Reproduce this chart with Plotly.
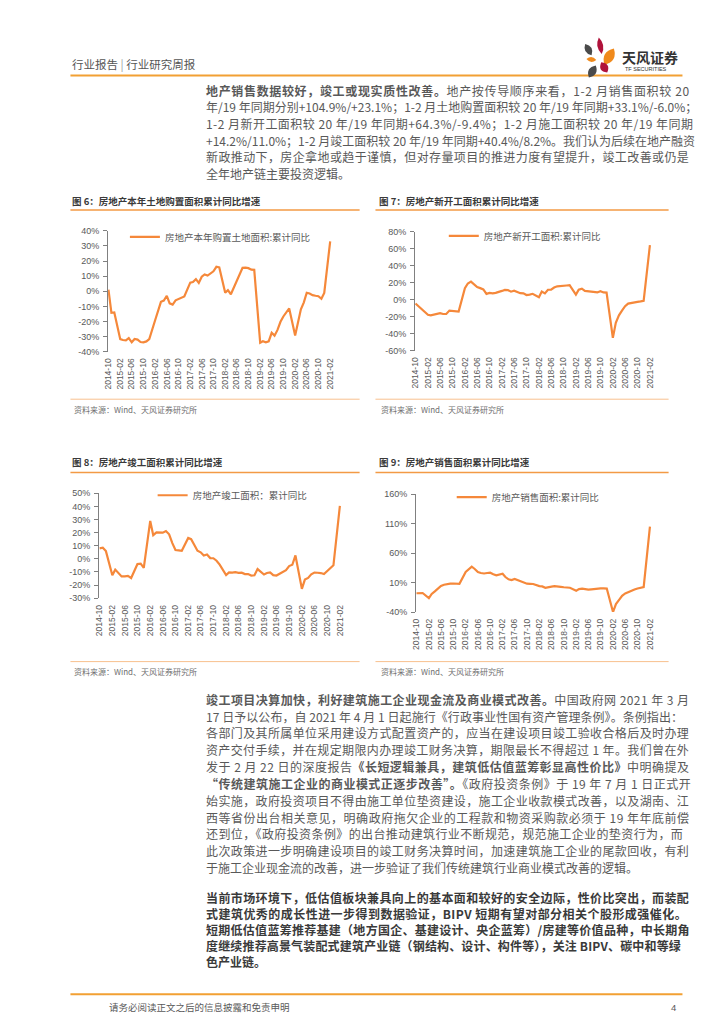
import re
import math
import plotly.graph_objects as go

W, H = 724, 1024
def X(px): return px / W
def Y(py): return 1 - py / H

ORANGE = "#F5883A"
GRAY = "#595959"
DARK = "#3a3a3a"
CJK = "Noto Sans CJK SC"

# ---------------- data ----------------
months = (["2014-10", "2014-11", "2014-12"]
          + [f"{y}-{m:02d}" for y in range(2015, 2021) for m in range(2, 13)]
          + ["2021-02"])

land_purchase = [1.0, -14.3, -14.0,
                 -31.7, -32.3, -32.5, -31.0, -33.8, -31.6, -32.0, -33.6, -33.8, -33.2, -31.7,
                 -19.0, -12.4, -7.0, -6.2, -3.0, -8.0, -8.8, -6.0, -5.3, -4.4, -3.4,
                 5.7, 6.1, 8.0, 5.5, 9.6, 11.1, 10.4, 12.0, 13.2, 16.2, 15.8,
                 -1.0, 0.7, -2.0, 2.6, 7.2, 11.1, 15.5, 15.7, 15.3, 14.3, 14.2,
                 -34.1, -33.1, -33.8, -33.2, -27.5, -29.4, -25.6, -20.2, -16.7, -14.2, -11.4,
                 -29.3, -20.0, -12.0, -7.5, -1.0, -1.5, -2.6, -3.0, -3.3, -5.0, -1.1,
                 33.1]

new_starts = [-4.5, -7.7, -10.7,
              -17.7, -18.4, -17.3, -16.1, -15.8, -16.8, -16.8, -12.8, -13.2, -14.3, -14.0,
              13.7, 19.2, 21.4, 18.3, 14.9, 13.7, 12.2, 6.9, 8.0, 7.6, 8.1,
              10.4, 11.6, 11.4, 9.5, 10.6, 8.9, 7.7, 7.6, 5.6, 6.1, 7.0,
              2.9, 9.7, 7.5, 11.8, 11.8, 14.4, 15.8, 16.4, 16.3, 16.8, 17.2,
              6.0, 11.9, 13.1, 10.5, 10.1, 9.5, 8.9, 8.6, 10.0, 8.6, 8.5,
              -44.9, -27.2, -18.4, -12.8, -7.6, -4.5, -3.6, -3.4, -2.6, -2.0, -1.2,
              64.3]

completions = [8.0, 8.5, 5.9,
               -12.5, -8.2, -10.9, -13.4, -13.3, -13.0, -14.6, -9.8, -4.0, -3.6, -6.9,
               28.9, 18.1, 20.2, 20.3, 20.0, 21.2, 18.7, 12.0, 6.7, 6.5, 6.1,
               15.9, 15.0, 10.5, 6.2, 5.0, 2.5, 3.3, 0.6, 0.5, -1.4, -4.4,
               -12.3, -10.3, -10.5, -10.1, -10.6, -10.5, -11.6, -11.6, -12.7, -12.5, -7.8,
               -11.9, -10.8, -10.3, -12.4, -12.7, -11.3, -10.0, -8.6, -5.5, -4.5, 2.6,
               -22.9, -15.8, -14.5, -11.8, -10.5, -10.6, -10.8, -11.6, -9.2, -7.3, -4.9,
               40.4]

sales = [-8.0, -8.2, -7.6,
         -16.3, -9.2, -4.8, -0.2, 4.5, 6.5, 7.8, 8.4, 8.5, 8.6, 8.0,
         28.2, 33.1, 37.1, 33.2, 27.9, 26.4, 25.5, 26.3, 26.8, 24.3, 22.5,
         25.1, 19.5, 15.7, 14.3, 16.1, 14.0, 12.7, 10.3, 8.2, 7.9, 7.7,
         4.1, 3.6, 1.3, 2.9, 3.3, 4.2, 4.0, 2.9, 2.2, 1.4, 1.3,
         -3.6, -0.9, -0.3, -1.6, -1.8, -1.3, -0.6, -0.1, 0.1, 0.2, -0.1,
         -39.9, -26.3, -19.3, -12.3, -8.4, -5.8, -3.3, -1.8, 0.0, 1.3, 2.6,
         104.9]

series_names = ["房地产本年购置土地面积:累计同比", "房地产新开工面积:累计同比",
                "房地产竣工面积：累计同比", "房地产销售面积:累计同比"]
chart_titles = ["图 6：房地产本年土地购置面积累计同比增速", "图 7：房地产新开工面积累计同比增速",
                "图 8：房地产竣工面积累计同比增速", "图 9：房地产销售面积累计同比增速"]
source_text = "资料来源：Wind、天风证券研究所"

para1 = [
    "<b>地产销售数据较好，竣工或现实质性改善。</b>地产按传导顺序来看，1-2 月销售面积较 20",
    "年/19 年同期分别+104.9%/+23.1%；1-2 月土地购置面积较 20 年/19 年同期+33.1%/-6.0%；",
    "1-2 月新开工面积较 20 年/19 年同期+64.3%/-9.4%；1-2 月施工面积较 20 年/19 年同期",
    "+14.2%/11.0%；1-2 月竣工面积较 20 年/19 年同期+40.4%/8.2%。我们认为后续在地产融资",
    "新政推动下，房企拿地或趋于谨慎，但对存量项目的推进力度有望提升，竣工改善或仍是",
    "全年地产链主要投资逻辑。",
]
para2 = [
    "<b>竣工项目决算加快，利好建筑施工企业现金流及商业模式改善。</b>中国政府网 2021 年 3 月",
    "17 日予以公布，自 2021 年 4 月 1 日起施行《行政事业性国有资产管理条例》。条例指出：",
    "各部门及其所属单位采用建设方式配置资产的，应当在建设项目竣工验收合格后及时办理",
    "资产交付手续，并在规定期限内办理竣工财务决算，期限最长不得超过 1 年。我们曾在外",
    "发于 2 月 22 日的深度报告<b>《长短逻辑兼具，建筑低估值蓝筹彰显高性价比》</b>中明确提及",
    "<b>“传统建筑施工企业的商业模式正逐步改善”。</b>《政府投资条例》于 19 年 7 月 1 日正式开",
    "始实施，政府投资项目不得由施工单位垫资建设，施工企业收款模式改善，以及湖南、江",
    "西等省份出台相关意见，明确政府拖欠企业的工程款和物资采购款必须于 19 年年底前偿",
    "还到位，《政府投资条例》的出台推动建筑行业不断规范，规范施工企业的垫资行为，而",
    "此次政策进一步明确建设项目的竣工财务决算时间，加速建筑施工企业的尾款回收，有利",
    "于施工企业现金流的改善，进一步验证了我们传统建筑行业商业模式改善的逻辑。",
]
para3 = [
    "当前市场环境下，低估值板块兼具向上的基本面和较好的安全边际，性价比突出，而装配",
    "式建筑优秀的成长性进一步得到数据验证，BIPV 短期有望对部分相关个股形成强催化。",
    "短期低估值蓝筹推荐基建（地方国企、基建设计、央企蓝筹）/房建等价值品种，中长期角",
    "度继续推荐高景气装配式建筑产业链（钢结构、设计、构件等），关注 BIPV、碳中和等绿",
    "色产业链。",
]

# ---------------- layout ----------------
charts = [
    dict(vals=land_purchase, dom=(96, 323, 220, 342), yr=(-40, 40), dt=10, zc="#000000",
         leg=(113, 226), title=(58, 190), rule=(58, 350, 199), bottom=(58, 350, 390), src=(60, 400)),
    dict(vals=new_starts, dom=(406, 646, 221, 341), yr=(-60, 80), dt=20, zc="#808080",
         leg=(435, 225), title=(368, 190), rule=(366, 662, 199), bottom=(366, 662, 390), src=(370, 400)),
    dict(vals=completions, dom=(87, 333, 485, 591), yr=(-30, 50), dt=10, zc="#000000",
         leg=(141, 487), title=(58, 453), rule=(58, 350, 464), bottom=(58, 350, 655), src=(60, 665)),
    dict(vals=sales, dom=(407, 646, 486, 605), yr=(-40, 160), dt=50, zc="#595959",
         leg=(443, 489), title=(368, 453), rule=(366, 662, 464), bottom=(366, 662, 655), src=(370, 665)),
]
xr = ["2014-09-27", "2021-03-01"]

fig = go.Figure()
layout = dict(width=W, height=H, margin=dict(l=0, r=0, t=0, b=0),
              paper_bgcolor="white", plot_bgcolor="white", showlegend=True)
annotations, shapes = [], []

def txt(x, y, s, size, color=GRAY, xanchor="left", family=CJK):
    annotations.append(dict(x=X(x), y=Y(y), xref="paper", yref="paper", text=s,
                            showarrow=False, xanchor=xanchor, yanchor="middle",
                            font=dict(family=family, size=size, color=color)))

def hline(x0, x1, y, color, width):
    shapes.append(dict(type="line", xref="paper", yref="paper", x0=X(x0), x1=X(x1),
                       y0=Y(y), y1=Y(y), line=dict(color=color, width=width)))

for i, c in enumerate(charts):
    k = i + 1
    sx = "" if k == 1 else str(k)
    x0, x1, y0, y1 = c["dom"]
    lo, hi = c["yr"]
    legname = "legend" if k == 1 else f"legend{k}"
    fig.add_trace(go.Scatter(x=months, y=c["vals"], mode="lines", name=series_names[i],
                             xaxis="x" + sx, yaxis="y" + sx, legend=legname,
                             line=dict(color=ORANGE, width=2.2)))
    tickvals = list(range(lo, hi + 1, c["dt"]))
    layout["xaxis" + sx] = dict(domain=[X(x0), X(x1)], anchor="y" + sx, type="date", range=xr,
                               tickformat="%Y-%m", dtick="M4", tick0="2014-10-01", tickangle=-90,
                               ticks="", showline=False, showgrid=False, zeroline=False,
                               ticklabelstandoff=4,
                               tickfont=dict(family="Liberation Sans", size=8.5, color=GRAY))
    layout["yaxis" + sx] = dict(domain=[Y(y1), Y(y0)], anchor="x" + sx, range=[lo, hi],
                               tickvals=tickvals, ticktext=[f"{v}%" for v in tickvals],
                               ticks="outside", ticklen=4, tickcolor="#808080",
                               showline=True, linecolor="#808080", linewidth=1,
                               showgrid=False, zeroline=False, ticklabelstandoff=2,
                               tickfont=dict(family="Liberation Sans", size=9, color=GRAY))
    zpos = Y(y1) + (0 - lo) / (hi - lo) * (Y(y0) - Y(y1))
    layout[f"xaxis{k + 4}"] = dict(overlaying="x" + sx, anchor="free", position=zpos,
                                   domain=[X(x0), X(x1)], type="date", range=xr,
                                   dtick="M4", tick0="2014-10-01", showticklabels=False,
                                   ticks="outside", ticklen=3, tickcolor=c["zc"],
                                   showline=True, linecolor=c["zc"], linewidth=1,
                                   showgrid=False, zeroline=False)
    lx, ly = c["leg"]
    layout[legname] = dict(x=X(lx), y=Y(ly), xanchor="left", yanchor="middle",
                           bgcolor="rgba(0,0,0,0)", itemwidth=30,
                           font=dict(family=CJK, size=9.5, color=GRAY))
    tx, ty = c["title"]
    txt(tx, ty, "<b>" + chart_titles[i] + "</b>", 9.5, DARK)
    rx0, rx1, ry = c["rule"]
    hline(rx0, rx1, ry, "#F39A45", 1.5)
    bx0, bx1, by = c["bottom"]
    hline(bx0, bx1, by, "#F8C08E", 1)
    sxp, syp = c["src"]
    txt(sxp, syp, source_text, 8, "#6f6f6f")

# header
txt(58, 52, "行业报告 <span style='color:#9a9a9a'>|</span> 行业研究周报", 11.5, "#555555")
hline(58, 676, 63, "#F2A033", 2)

# logo petals (decorative)
def petal(cx, cy, L, Wd, ang, color):
    a = math.radians(ang)
    ux, uy = math.cos(a), math.sin(a)
    px_, py_ = -uy, ux
    t1 = (cx + ux * L / 2, cy + uy * L / 2)
    t2 = (cx - ux * L / 2, cy - uy * L / 2)
    c1 = (cx + px_ * Wd, cy + py_ * Wd)
    c2 = (cx - px_ * Wd, cy - py_ * Wd)
    f = lambda p: f"{X(p[0]):.5f},{Y(p[1]):.5f}"
    path = f"M{f(t1)} Q{f(c1)} {f(t2)} Q{f(c2)} {f(t1)} Z"
    shapes.append(dict(type="path", xref="paper", yref="paper", path=path,
                       fillcolor=color, line=dict(width=0)))

petal(581, 37, 13, 7, 60, "#4a4a4a")
petal(593, 33, 17, 6, 80, "#B0123B")
petal(602, 44, 19, 10, 120, "#F08A1C")
petal(584, 47, 10, 5, 5, "#F08A1C")
petal(597, 55, 12, 8, 60, "#B0123B")
petal(585, 59, 14, 8, 120, "#4a4a4a")
txt(613, 44, "<b>天风证券</b>", 14, "#333333")
txt(616, 57, "TF SECURITIES", 5.5, "#333333", family="Liberation Sans")

# paragraphs, spread to the full text column like the justified original
COL_W = 676 - 193
def em_width(ch):
    o = ord(ch)
    if o >= 0x2E80 or ch in "，。；：、（）《》":
        return 1.0
    if ch == " ":
        return 0.224
    if ch.isdigit():
        return 0.553
    if ch == "%":
        return 0.86
    if ch in "/-.":
        return {"/": 0.35, "-": 0.34, ".": 0.26}[ch]
    if ch in "“”":
        return 0.42
    if ch.isupper():
        return 0.62
    return 0.55

def justify(s, size, last):
    plain = re.sub(r"<[^>]+>", "", s)
    if last:
        return s
    natural = sum(em_width(ch) for ch in plain) * size
    gap = (COL_W - natural) / max(len(plain) - 1, 1)
    gap = max(0.0, min(gap, 2.5))
    return f"<span style='letter-spacing:{gap:.2f}px'>{s}</span>"

def paragraph(lines, y0, step, bold=False, color=GRAY):
    for j, s in enumerate(lines):
        t = "<b>" + s + "</b>" if bold else s
        txt(193, y0 + step * j, justify(t, 12, j == len(lines) - 1), 12, color)

paragraph(para1, 78, 16.8)
paragraph(para2, 693, 17.0)
paragraph(para3, 893, 16.3, bold=True, color=DARK)

# footer
hline(58, 676, 991, "#F2A033", 2)
txt(95, 1004, "请务必阅读正文之后的信息披露和免责申明", 9.5, GRAY)
txt(671, 1004, "4", 9.5, GRAY, xanchor="right", family="Liberation Sans")

layout["annotations"] = annotations
layout["shapes"] = shapes
fig.update_layout(**layout)
fig.write_html("out.html")
